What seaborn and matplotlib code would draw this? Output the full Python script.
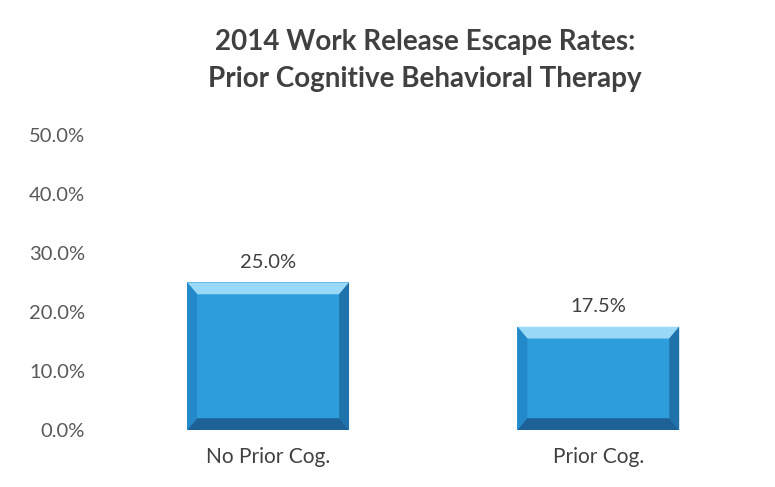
import matplotlib
matplotlib.use("Agg")
import pandas as pd
import seaborn as sns
import matplotlib.pyplot as plt
from matplotlib.patches import Polygon
from matplotlib.ticker import PercentFormatter, MultipleLocator

# Data
categories = ["No Prior Cog.", "Prior Cog."]
escape_rates = [0.25, 0.175]
bar_labels = ["25.0%", "17.5%"]

df = pd.DataFrame({"group": categories, "rate": escape_rates})

sns.set_style("white")
plt.rcParams["font.family"] = ["Lato", "DejaVu Sans"]

fig = plt.figure(figsize=(7.75, 4.87), dpi=100)
ax = fig.add_axes([0.133, 0.117, 0.852, 0.606])

main_blue = "#2E9DDC"
sns.barplot(data=df, x="group", y="rate", color=main_blue, saturation=1,
            width=0.49, ax=ax, edgecolor="none")

ax.set_ylim(0, 0.5)
ax.set_xlim(-0.5, 1.5)
ax.yaxis.set_major_locator(MultipleLocator(0.1))
ax.yaxis.set_major_formatter(PercentFormatter(1, decimals=1))
ax.set_xlabel("")
ax.set_ylabel("")
sns.despine(ax=ax, left=True, bottom=True)
ax.tick_params(axis="y", labelsize=14.5, labelcolor="#595959", length=0, pad=13)
ax.tick_params(axis="x", labelsize=15, labelcolor="#404040", length=0, pad=12)

# Bevel effect on each bar
dx, dy = 0.03, 0.02
for patch, lab in zip(ax.patches, bar_labels):
    x0, y0 = patch.get_x(), patch.get_y()
    x1, y1 = x0 + patch.get_width(), y0 + patch.get_height()
    faces = [
        ([(x0, y1), (x1, y1), (x1 - dx, y1 - dy), (x0 + dx, y1 - dy)], "#9AD8F8"),
        ([(x0, y0), (x0, y1), (x0 + dx, y1 - dy), (x0 + dx, y0 + dy)], "#2489C8"),
        ([(x1, y0), (x1, y1), (x1 - dx, y1 - dy), (x1 - dx, y0 + dy)], "#1F72AA"),
        ([(x0, y0), (x1, y0), (x1 - dx, y0 + dy), (x0 + dx, y0 + dy)], "#1C6297"),
    ]
    for pts, col in faces:
        ax.add_patch(Polygon(pts, closed=True, facecolor=col, edgecolor="none"))
    ax.text(x0 + patch.get_width() / 2, y1 + 0.02, lab, ha="center", va="bottom",
            fontsize=14.5, color="#404040")

fig.suptitle("2014 Work Release Escape Rates:\nPrior Cognitive Behavioral Therapy",
             x=0.548, y=0.94, fontsize=20, fontweight="bold", color="#404040",
             linespacing=1.5)

fig.savefig("out.png", dpi=100, facecolor="white")
